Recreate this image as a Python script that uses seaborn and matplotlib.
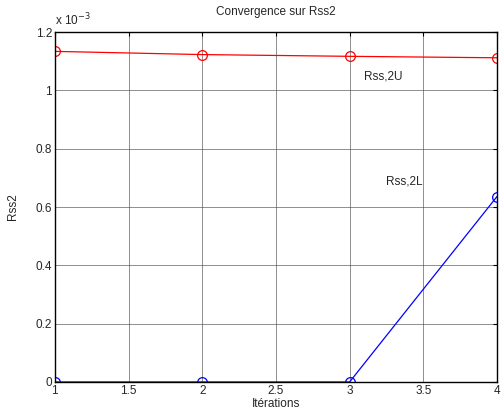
import matplotlib
matplotlib.use("Agg")
import matplotlib.pyplot as plt
import numpy as np
import pandas as pd
import seaborn as sns

# Convergence data (values in units of 1e-3)
iterations = [1, 2, 3, 4]
rss_2u = [1.134, 1.123, 1.117, 1.112]
rss_2l = [0.0, 0.0, 0.0, 0.636]

sns.set_style("white")
plt.rcParams['font.family'] = ['Liberation Sans', 'DejaVu Sans']
plt.rcParams['font.size'] = 8.5

fig = plt.figure(figsize=(5.03, 4.2), dpi=100)
ax = fig.add_axes([0.109, 0.0905, 0.879, 0.833])

df = pd.DataFrame({'it': iterations, 'u': rss_2u, 'l': rss_2l})
sns.lineplot(data=df, x='it', y='u', ax=ax, color='red', marker='o',
             markersize=7, markerfacecolor='none', markeredgecolor='red',
             markeredgewidth=0.9, linewidth=0.9)
sns.lineplot(data=df, x='it', y='l', ax=ax, color='blue', marker='o',
             markersize=7, markerfacecolor='none', markeredgecolor='blue',
             markeredgewidth=0.9, linewidth=0.9)

ax.set_xlim(1, 4)
ax.set_ylim(0, 1.2)
ax.set_xticks(np.arange(1, 4.01, 0.5))
ax.set_xticklabels(['1', '1.5', '2', '2.5', '3', '3.5', '4'])
ax.set_yticks(np.arange(0, 1.21, 0.2))
ax.set_yticklabels(['0', '0.2', '0.4', '0.6', '0.8', '1', '1.2'])
ax.tick_params(direction='in', length=3, top=True, right=True, labelsize=8.5,
               pad=2, color='black')
ax.grid(True, color='#444444', linewidth=0.6, alpha=0.7)
for s in ax.spines.values():
    s.set_color('black')
    s.set_linewidth(1.0)

ax.set_title('Convergence sur Rss2', fontsize=8.5, pad=12)
ax.set_xlabel('Itérations', fontsize=8.5, labelpad=1)
ax.set_ylabel('Rss2', fontsize=8.5, labelpad=12)
ax.text(0.0, 1.012, r'x 10$^{-3}$', transform=ax.transAxes, fontsize=8.5,
        ha='left', va='bottom')

ax.text(3.1, 1.047, 'Rss,2U', fontsize=8.5, va='center')
ax.text(3.25, 0.687, 'Rss,2L', fontsize=8.5, va='center')

fig.savefig('out.png', dpi=100)
